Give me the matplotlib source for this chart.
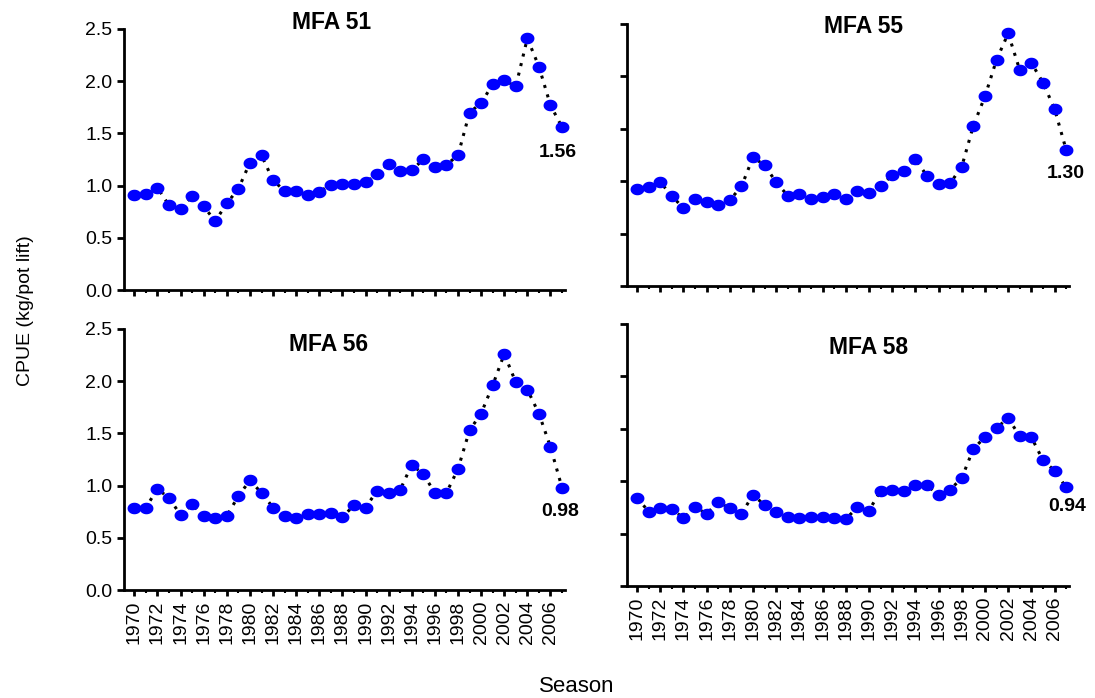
import numpy as np
import matplotlib
matplotlib.use("Agg")
import matplotlib.pyplot as plt
from matplotlib.ticker import MultipleLocator, FormatStrFormatter
from matplotlib.path import Path

plt.rcParams['font.family'] = ['Liberation Sans', 'DejaVu Sans']

# seasons 1970..2007
years = list(range(1970, 2008))

# CPUE (kg/pot lift)
mfa51 = [0.91, 0.92, 0.98, 0.81, 0.78, 0.90, 0.80, 0.66, 0.83, 0.97,
         1.22, 1.29, 1.05, 0.95, 0.95, 0.91, 0.94, 1.01, 1.02, 1.02,
         1.03, 1.11, 1.21, 1.14, 1.15, 1.25, 1.18, 1.20, 1.29, 1.70,
         1.79, 1.97, 2.01, 1.95, 2.41, 2.14, 1.77, 1.56]
mfa55 = [0.93, 0.94, 0.99, 0.86, 0.74, 0.83, 0.80, 0.77, 0.82, 0.95,
         1.23, 1.15, 0.99, 0.86, 0.88, 0.83, 0.85, 0.88, 0.83, 0.91,
         0.89, 0.95, 1.06, 1.10, 1.21, 1.05, 0.97, 0.98, 1.14, 1.53,
         1.81, 2.16, 2.41, 2.06, 2.13, 1.94, 1.69, 1.30]
mfa56 = [0.79, 0.79, 0.97, 0.88, 0.72, 0.82, 0.71, 0.69, 0.71, 0.90,
         1.05, 0.93, 0.79, 0.71, 0.69, 0.73, 0.73, 0.74, 0.70, 0.81,
         0.79, 0.95, 0.93, 0.96, 1.20, 1.11, 0.93, 0.93, 1.16, 1.53,
         1.69, 1.96, 2.26, 1.99, 1.92, 1.69, 1.37, 0.98]
mfa58 = [0.84, 0.71, 0.74, 0.73, 0.65, 0.75, 0.69, 0.80, 0.74, 0.69,
         0.87, 0.77, 0.71, 0.66, 0.65, 0.66, 0.66, 0.65, 0.64, 0.75,
         0.72, 0.91, 0.92, 0.91, 0.96, 0.96, 0.87, 0.92, 1.03, 1.31,
         1.42, 1.51, 1.60, 1.43, 1.42, 1.20, 1.10, 0.94]

titles = ['MFA 51', 'MFA 55', 'MFA 56', 'MFA 58']
last_labels = ['1.56', '1.30', '0.98', '0.94']
series = [mfa51, mfa55, mfa56, mfa58]

# slightly wide ellipse marker, like the original
t = np.linspace(0, 2*np.pi, 41)
ellipse = Path(np.column_stack([1.2*np.cos(t), np.sin(t)]), closed=True)

fig = plt.figure(figsize=(10.95, 6.98), dpi=100)

# axes boxes [left, bottom, width, height] in figure fractions
boxes = [[0.1132, 0.5845, 0.4027, 0.3740],
         [0.5723, 0.5903, 0.4040, 0.3753],
         [0.1132, 0.1547, 0.4027, 0.3740],
         [0.5723, 0.1605, 0.4040, 0.3753]]
title_pos = [(0.47, 1.023), (0.535, 0.99), (0.463, 0.939), (0.546, 0.912)]
label_off = [(-3, -18), (0, -17), (-1, -17), (1, -14)]

for k in range(4):
    ax = fig.add_axes(boxes[k])
    ax.plot(years, series[k], linestyle=(0, (1, 2.2)), color='black', lw=2.2,
            zorder=1, clip_on=False)
    ax.plot(years, series[k], linestyle='none', marker=ellipse, color='#0000ff',
            markersize=10, markeredgewidth=0, zorder=2, clip_on=False)
    ax.set_xlim(1969.1, 2007.25)
    ax.set_ylim(0, 2.5)
    ax.spines['top'].set_visible(False)
    ax.spines['right'].set_visible(False)
    ax.spines['left'].set_linewidth(2)
    ax.spines['bottom'].set_linewidth(2)
    ax.yaxis.set_major_locator(MultipleLocator(0.5))
    ax.yaxis.set_major_formatter(FormatStrFormatter('%.1f'))
    ax.xaxis.set_major_locator(MultipleLocator(2))
    ax.xaxis.set_minor_locator(MultipleLocator(1))
    ax.tick_params(axis='y', direction='out', length=5, width=2, labelsize=14)
    ax.tick_params(axis='x', which='major', direction='out', length=4, width=2)
    ax.tick_params(axis='x', which='minor', direction='out', length=2, width=1.5)
    if k % 2 == 1:
        ax.set_yticklabels([])
    ax.set_xticks(range(1970, 2007, 2))
    if k < 2:
        ax.set_xticklabels([])
    else:
        ax.set_xticklabels([str(y) for y in range(1970, 2007, 2)], rotation=90,
                           fontsize=14)
    ax.text(title_pos[k][0], title_pos[k][1], titles[k], transform=ax.transAxes,
            ha='center', va='center', fontsize=16.5, fontweight='bold')
    ax.annotate(last_labels[k], (years[-1], series[k][-1]), xytext=label_off[k],
                textcoords='offset points', ha='center', va='center',
                fontsize=14, fontweight='bold')

fig.text(0.023, 0.555, 'CPUE (kg/pot lift)', rotation=90, ha='center', va='center',
         fontsize=14)
fig.text(0.527, 0.017, 'Season', ha='center', va='center', fontsize=16)

fig.savefig('out.png', dpi=100)
